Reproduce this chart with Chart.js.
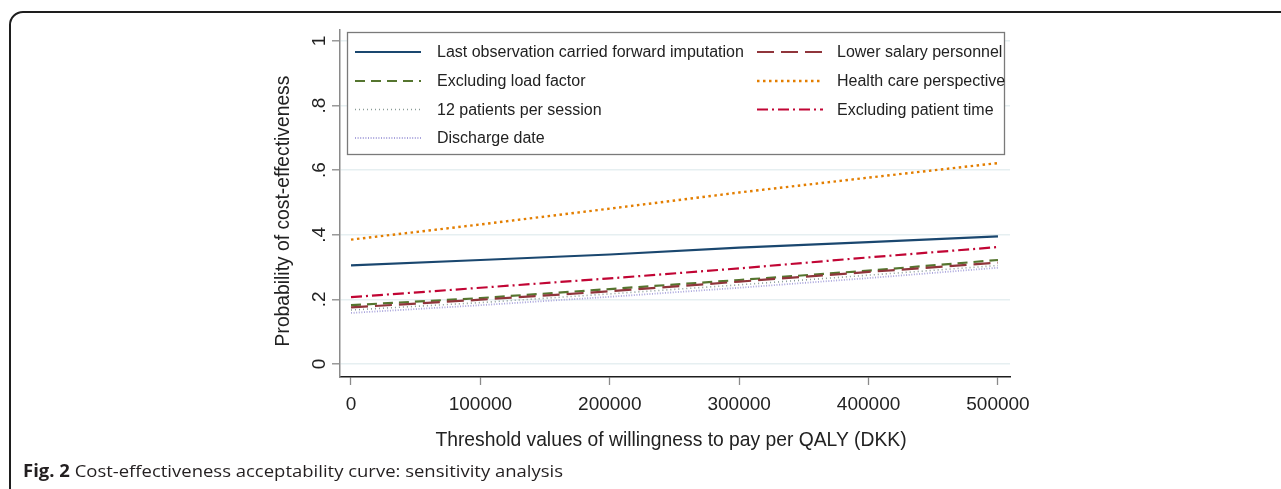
<!DOCTYPE html>
<html><head><meta charset="utf-8">
<script src="https://cdn.jsdelivr.net/npm/chart.js@4"></script>
<style>html,body{margin:0;padding:0;background:#fff;overflow:hidden}</style>
</head><body>
<canvas id="c" width="1281" height="489" style="width:1281px;height:489px;display:block"></canvas>
<script>
// ---- data ----
const wtpValues = [0, 100000, 200000, 300000, 400000, 500000];
const xTickValues = [0, 100000, 200000, 300000, 400000, 500000];
const xTickLabels = ['0', '100000', '200000', '300000', '400000', '500000'];
const yTickValues = [0, 0.2, 0.4, 0.6, 0.8, 1];
const yTickLabels = ['0', '.2', '.4', '.6', '.8', '1'];
const seriesNames = ['Last observation carried forward imputation', 'Lower salary personnel',
  'Excluding load factor', 'Health care perspective', '12 patients per session',
  'Excluding patient time', 'Discharge date'];
const locfImputation   = [0.305, 0.322, 0.339, 0.360, 0.377, 0.395];
const lowerSalary      = [0.175, 0.199, 0.225, 0.255, 0.285, 0.314];
const excludingLoad    = [0.182, 0.204, 0.232, 0.260, 0.289, 0.322];
const healthCare       = [0.385, 0.432, 0.481, 0.531, 0.577, 0.622];
const twelvePatients   = [0.167, 0.190, 0.217, 0.245, 0.275, 0.305];
const excludingPatient = [0.207, 0.236, 0.265, 0.296, 0.330, 0.362];
const dischargeDate    = [0.158, 0.182, 0.208, 0.236, 0.266, 0.298];
const xTitle = 'Threshold values of willingness to pay per QALY (DKK)';
const yTitle = 'Probability of cost-effectiveness';
const captionBold = 'Fig. 2';
const captionText = ' Cost-effectiveness acceptability curve: sensitivity analysis';

// ---- styling ----
const seriesValues = [locfImputation, lowerSalary, excludingLoad, healthCare, twelvePatients, excludingPatient, dischargeDate];
const styles = [
  {c:'#1a476f', d:[], w:2.2},
  {c:'#90353b', d:[17,7], w:2.2},
  {c:'#55752f', d:[10,6], w:2.2},
  {c:'#e37e00', d:[2.5,3.5], w:2.4},
  {c:'#8a9c97', d:[1,3], w:1.6},
  {c:'#c10534', d:[11,4,2,4], w:2.2},
  {c:'#a9a4dc', d:[1,1.6], w:1.8}
];
const datasets = seriesNames.map((n,i)=>({
  label:n,
  data: wtpValues.map((x,j)=>({x:x, y:seriesValues[i][j]})),
  borderColor:styles[i].c, backgroundColor:styles[i].c,
  borderDash:styles[i].d, borderWidth:styles[i].w,
  pointRadius:0, tension:0, fill:false
}));
const FONT = '"Liberation Sans", Arial, Helvetica, sans-serif';

const deco = {
  id:'deco',
  beforeDraw(chart){
    const ctx = chart.ctx;
    ctx.save();
    ctx.fillStyle = '#fff'; ctx.fillRect(0,0,chart.width,chart.height);
    ctx.strokeStyle = '#1e1e1e'; ctx.lineWidth = 2;
    ctx.beginPath();
    ctx.roundRect(10, 12, 1320, 520, 13);
    ctx.stroke();
    ctx.restore();
  },
  afterDatasetsDraw(chart){
    const ctx = chart.ctx;
    const xs = chart.scales.x, ys = chart.scales.y;
    ctx.save();
    // legend box
    ctx.fillStyle = '#fff';
    ctx.fillRect(347.5, 32.5, 657, 122);
    ctx.strokeStyle = '#7a7a7a'; ctx.lineWidth = 1.3;
    ctx.strokeRect(347.5, 32.5, 657, 122);
    const colSample = [355, 757], colText = [437, 837], rowY = [52, 81, 109.5, 138];
    chart.data.datasets.forEach((ds,i)=>{
      const r = Math.floor(i/2), c = i%2;
      const y = rowY[r];
      ctx.strokeStyle = ds.borderColor; ctx.lineWidth = ds.borderWidth;
      ctx.setLineDash(ds.borderDash);
      ctx.beginPath(); ctx.moveTo(colSample[c], y); ctx.lineTo(colSample[c]+66, y); ctx.stroke();
      ctx.setLineDash([]);
      ctx.fillStyle = '#222'; ctx.font = '16px ' + FONT;
      ctx.textAlign = 'left'; ctx.textBaseline = 'middle';
      ctx.fillText(ds.label, colText[c], y+1);
    });
    // x tick labels
    ctx.fillStyle = '#222'; ctx.font = '19px ' + FONT;
    ctx.textAlign = 'center'; ctx.textBaseline = 'alphabetic';
    xTickValues.forEach((v,i)=>ctx.fillText(xTickLabels[i], xs.getPixelForValue(v), 410));
    // y tick labels, rotated
    yTickValues.forEach((v,i)=>{
      ctx.save(); ctx.translate(325, ys.getPixelForValue(v)); ctx.rotate(-Math.PI/2);
      ctx.fillText(yTickLabels[i], 0, 0); ctx.restore();
    });
    // titles
    ctx.font = '19.3px ' + FONT;
    ctx.fillText(xTitle, 671, 446);
    ctx.save(); ctx.translate(289, 211); ctx.rotate(-Math.PI/2);
    ctx.fillText(yTitle, 0, 0); ctx.restore();
    // caption
    ctx.textAlign = 'left';
    ctx.font = 'bold 17px "Open Sans", sans-serif';
    const wb = ctx.measureText(captionBold).width;
    ctx.font = '17px "Open Sans", sans-serif';
    const wt = ctx.measureText(captionText).width;
    const sx = (563 - 23) / (wb + wt);
    ctx.save(); ctx.translate(23, 477); ctx.scale(sx, 1);
    ctx.fillStyle = '#231f20';
    ctx.font = 'bold 17px "Open Sans", sans-serif';
    ctx.fillText(captionBold, 0, 0);
    ctx.font = '17px "Open Sans", sans-serif';
    ctx.fillText(captionText, wb, 0);
    ctx.restore();
    ctx.restore();
  }
};

new Chart(document.getElementById('c'), {
  type:'line',
  data:{datasets:datasets},
  options:{
    responsive:false, animation:false, devicePixelRatio:1,
    layout:{padding:{left:0, top:30, right:271, bottom:0}},
    plugins:{legend:{display:false}, tooltip:{enabled:false}},
    scales:{
      x:{type:'linear', min:-8500, max:509300,
        afterBuildTicks:(s)=>{s.ticks = xTickValues.map(v=>({value:v}));},
        afterFit:(s)=>{s.height = 112;},
        ticks:{display:false},
        grid:{display:true, drawOnChartArea:false, drawTicks:true, tickLength:8, tickColor:'#8a8a8a', tickWidth:1.3},
        border:{display:true, color:'#1e1e1e', width:1.5}
      },
      y:{type:'linear', min:-0.0403, max:1.034,
        afterBuildTicks:(s)=>{s.ticks = yTickValues.map(v=>({value:v}));},
        afterFit:(s)=>{s.width = 340;},
        ticks:{display:false},
        grid:{display:true, drawOnChartArea:true, drawTicks:true, tickLength:8, color:'#e6eff1', lineWidth:1.6, tickColor:'#8a8a8a', tickWidth:1.3},
        border:{display:true, color:'#8a8a8a', width:1.5}
      }
    }
  },
  plugins:[deco]
});
</script>
</body></html>
